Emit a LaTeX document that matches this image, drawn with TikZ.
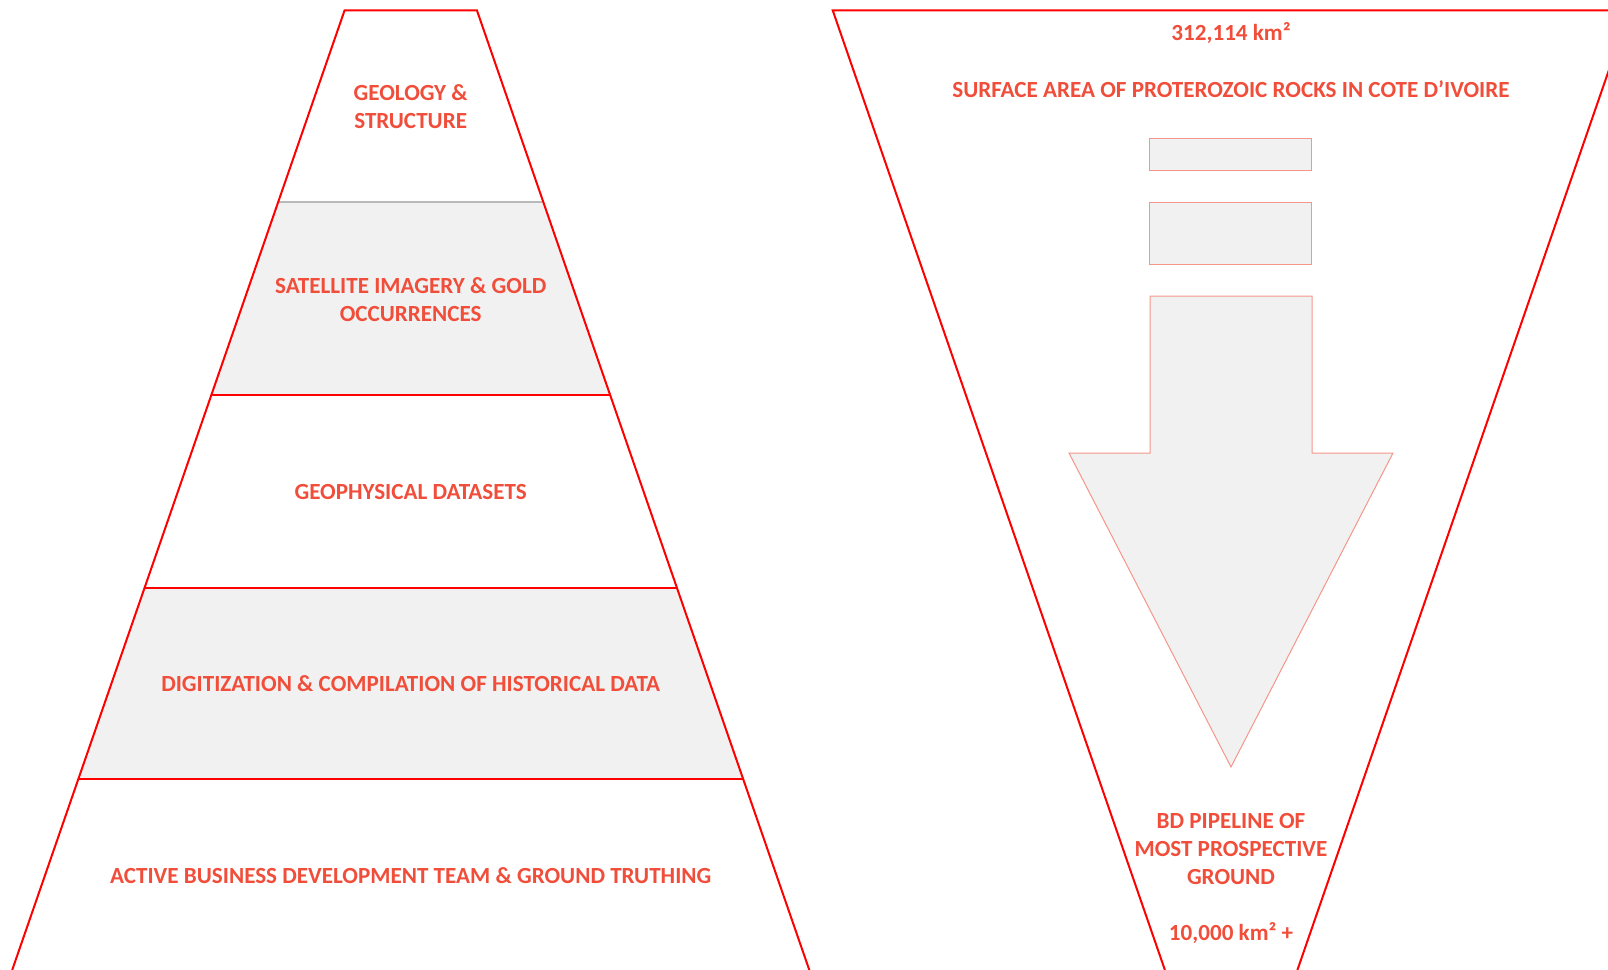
\documentclass[tikz,border=0pt]{standalone}
\usepackage{fontspec}
\setmainfont{Carlito}
\usepackage{tikz}
\definecolor{lblred}{RGB}{240,78,58}
\definecolor{edgered}{RGB}{255,0,0}
\definecolor{pale}{RGB}{241,241,241}
\definecolor{softred}{RGB}{246,150,138}
\tikzset{
  lbl/.style={text=lblred, font=\fontsize{11.55}{14}\selectfont\bfseries, align=center, inner sep=0pt},
  band/.style={fill=pale},
  outline/.style={draw=edgered, line width=1pt},
  divider/.style={draw=edgered, line width=0.8pt},
  block/.style={fill=pale, draw=softred, line width=0.5pt}
}

\begin{document}
\begin{tikzpicture}[x=0.5pt, y=-0.5pt]
    \useasboundingbox (0,0) rectangle (1608,970);
    \clip (0,0) rectangle (1608,970);
    % pyramid
    \fill[band] (278.2,202) -- (543.3,202) -- (610.1,395) -- (211.4,395) -- cycle;
    \fill[band] (144.6,588) -- (676.9,588) -- (743.1,779) -- (78.4,779) -- cycle;
    \draw[gray!55, line width=0.6pt] (278.2,202) -- (543.3,202);
    \draw[divider] (211.4,395) -- (610.1,395);
    \draw[divider] (144.6,588) -- (676.9,588);
    \draw[divider] (78.4,779) -- (743.1,779);
    \draw[outline] (12.2,970) -- (344.6,10.3) -- (476.9,10.3) -- (809.3,970);
    \node[lbl] (geology) at (410.7,107) {GEOLOGY \&\\STRUCTURE};
    \node[lbl] (satellite) at (410.7,299.5) {SATELLITE IMAGERY \& GOLD\\OCCURRENCES};
    \node[lbl] (geophys) at (410.7,491.5) {GEOPHYSICAL DATASETS};
    \node[lbl] (digitize) at (410.7,683.5) {DIGITIZATION \& COMPILATION OF HISTORICAL DATA};
    \node[lbl] (bizdev) at (410.7,875.5) {ACTIVE BUSINESS DEVELOPMENT TEAM \& GROUND TRUTHING};
    % funnel
    \draw[outline] (1164.9,970) -- (832.7,10.3) -- (1629.6,10.3) -- (1297.4,970);
    \draw[block] (1149.6,138.4) rectangle (1311.6,170.2);
    \draw[block] (1149.6,202) rectangle (1311.6,264.6);
    \draw[block] (1150,296) -- (1312,296) -- (1312,453) -- (1393,453) -- (1231,767)
        -- (1069,453) -- (1150,453) -- cycle;
    \node[lbl] (total) at (1231,33) {312,114 km²};
    \node[lbl] (surface) at (1231,89.5) {SURFACE AREA OF PROTEROZOIC ROCKS IN COTE D’IVOIRE};
    \node[lbl] (pipeline) at (1231,849) {BD PIPELINE OF\\MOST PROSPECTIVE\\GROUND};
    \node[lbl] (target) at (1231,933) {10,000 km² +};
\end{tikzpicture}
\end{document}
